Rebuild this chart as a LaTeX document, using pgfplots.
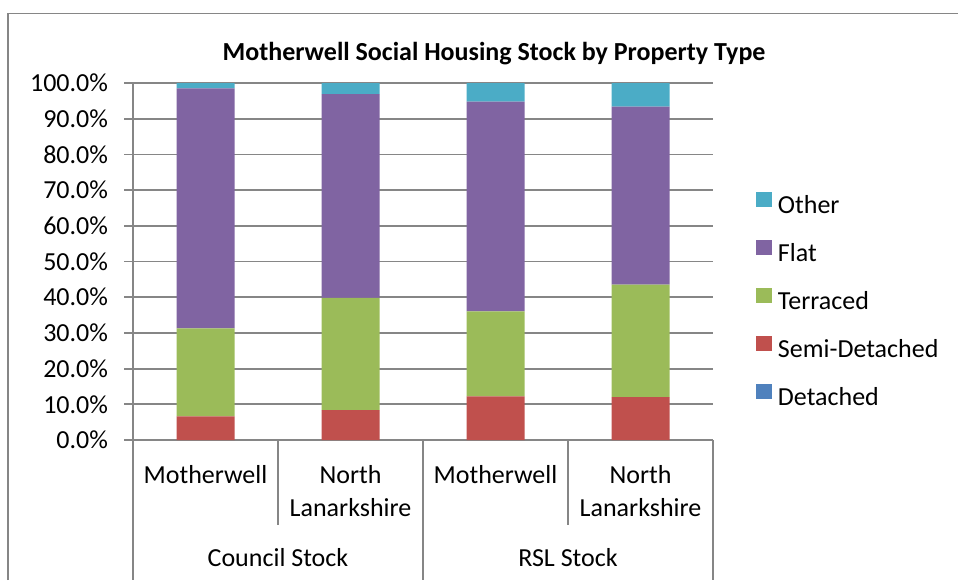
\documentclass[border=0pt]{standalone}
\usepackage{fontspec}
\setmainfont{Carlito}
\usepackage{pgfplots}
\pgfplotsset{compat=1.18}

\definecolor{cDet}{HTML}{4F81BD}
\definecolor{cSemi}{HTML}{C0504D}
\definecolor{cTer}{HTML}{9BBB59}
\definecolor{cFlat}{HTML}{8064A2}
\definecolor{cOth}{HTML}{4BACC6}
\definecolor{gridgray}{HTML}{868686}

\pgfplotsset{sqlegend/.style={legend image code/.code={\fill[##1] (0pt,0.3pt) rectangle (8pt,7.8pt);}}}

\begin{document}
\begin{tikzpicture}[font=\fontsize{13}{16.75}\selectfont]
\useasboundingbox (0,0) rectangle (479pt,290pt);
% chart frame
\draw[gridgray, line width=0.75pt] (4pt,0pt) -- (4pt,283.25pt) -- (479pt,283.25pt);
\node[anchor=base, font=\fontsize{13}{16.75}\selectfont\bfseries] at (247pt,260pt)
  {Motherwell Social Housing Stock by Property Type};

\begin{axis}[
  at={(66.5pt,70pt)}, anchor=south west,
  scale only axis, width=290pt, height=178.5pt,
  ybar stacked, bar width=0.4,
  xmin=0.5, xmax=4.5, ymin=0, ymax=100,
  xtick=\empty,
  ytick={0,10,...,100},
  yticklabel={\pgfmathprintnumber[fixed,fixed zerofill,precision=1,assume math mode=true]{\tick}\%},
  yticklabel style={xshift=-4.5pt},
  axis lines=left,
  axis line style={-, gridgray, line width=0.9pt},
  ymajorgrids, grid style={gridgray, line width=0.9pt},
  tick align=outside, major tick length=4.5pt,
  tick style={gridgray, line width=0.9pt},
  clip=false,
  reverse legend,
  legend cell align=left,
  legend style={draw=none, fill=none, at={(1.0741,0.6954)}, anchor=north west,
    inner sep=0pt, outer sep=0pt, row sep=10.2pt,
    nodes={inner sep=0pt, text height=9pt, text depth=3pt}},
  /tikz/every odd column/.style={column sep=3pt},
]
\addplot[fill=cDet, draw=none, sqlegend] coordinates {(1,0) (2,0) (3,0) (4,0)};
\addplot[fill=cSemi, draw=none, sqlegend] coordinates {(1,6.6) (2,8.4) (3,12.2) (4,12.0)};
\addplot[fill=cTer, draw=none, sqlegend] coordinates {(1,24.7) (2,31.4) (3,23.8) (4,31.5)};
\addplot[fill=cFlat, draw=none, sqlegend] coordinates {(1,67.2) (2,57.1) (3,58.8) (4,49.9)};
\addplot[fill=cOth, draw=none, sqlegend] coordinates {(1,1.5) (2,3.1) (3,5.2) (4,6.6)};
\legend{Detached,Semi-Detached,Terraced,Flat,Other}

% two-level category axis
\draw[gridgray, line width=0.9pt] (axis cs:0.5,0) -- ++(0pt,-70pt);
\draw[gridgray, line width=0.9pt] (axis cs:2.5,0) -- ++(0pt,-70pt);
\draw[gridgray, line width=0.9pt] (axis cs:4.5,0) -- ++(0pt,-70pt);
\draw[gridgray, line width=0.9pt] (axis cs:1.5,0) -- ++(0pt,-42.5pt);
\draw[gridgray, line width=0.9pt] (axis cs:3.5,0) -- ++(0pt,-42.5pt);
\path (axis cs:1,0) ++(0pt,-21.5pt) node[anchor=base]{Motherwell};
\path (axis cs:2,0) ++(0pt,-21.5pt) node[anchor=base]{North};
\path (axis cs:2,0) ++(0pt,-38.3pt) node[anchor=base]{Lanarkshire};
\path (axis cs:3,0) ++(0pt,-21.5pt) node[anchor=base]{Motherwell};
\path (axis cs:4,0) ++(0pt,-21.5pt) node[anchor=base]{North};
\path (axis cs:4,0) ++(0pt,-38.3pt) node[anchor=base]{Lanarkshire};
\path (axis cs:1.5,0) ++(0pt,-63.3pt) node[anchor=base]{Council Stock};
\path (axis cs:3.5,0) ++(0pt,-63.3pt) node[anchor=base]{RSL Stock};
\end{axis}
\end{tikzpicture}
\end{document}
